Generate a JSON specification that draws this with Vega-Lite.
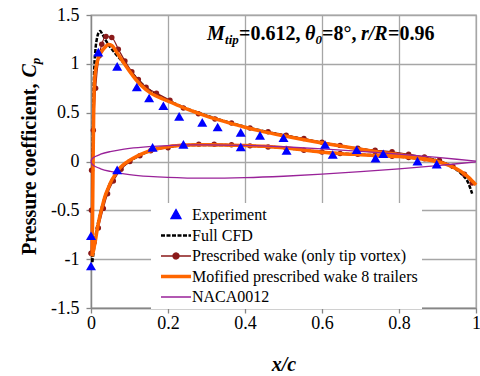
{
  "$schema": "https://vega.github.io/schema/vega-lite/v6.json",
  "width": 385,
  "height": 293,
  "autosize": "none",
  "padding": {"left": 91, "top": 15, "right": 4, "bottom": 68},
  "background": "white",
  "config": {
    "view": {"stroke": "#a6a6a6", "strokeWidth": 1.3},
    "font": "Liberation Serif"
  },
  "datasets": {
    "lines": [
      {"s":"Full CFD","side":"u","x":0.003,"y":-1.03},{"s":"Full CFD","side":"u","x":0.0035,"y":-0.7},{"s":"Full CFD","side":"u","x":0.004,"y":-0.3},{"s":"Full CFD","side":"u","x":0.005,"y":0.2},{"s":"Full CFD","side":"u","x":0.006,"y":0.55},{"s":"Full CFD","side":"u","x":0.008,"y":0.9},{"s":"Full CFD","side":"u","x":0.011,"y":1.12},{"s":"Full CFD","side":"u","x":0.015,"y":1.25},{"s":"Full CFD","side":"u","x":0.02,"y":1.32},{"s":"Full CFD","side":"u","x":0.024,"y":1.335},{"s":"Full CFD","side":"u","x":0.03,"y":1.3},{"s":"Full CFD","side":"u","x":0.04,"y":1.23},{"s":"Full CFD","side":"u","x":0.05,"y":1.17},{"s":"Full CFD","side":"u","x":0.06,"y":1.12},{"s":"Full CFD","side":"u","x":0.08,"y":1.03},{"s":"Full CFD","side":"u","x":0.1,"y":0.935},{"s":"Full CFD","side":"u","x":0.12,"y":0.845},{"s":"Full CFD","side":"u","x":0.15,"y":0.735},{"s":"Full CFD","side":"u","x":0.2,"y":0.625},{"s":"Full CFD","side":"u","x":0.25,"y":0.54},{"s":"Full CFD","side":"u","x":0.3,"y":0.47},{"s":"Full CFD","side":"u","x":0.35,"y":0.41},{"s":"Full CFD","side":"u","x":0.4,"y":0.355},{"s":"Full CFD","side":"u","x":0.45,"y":0.31},{"s":"Full CFD","side":"u","x":0.5,"y":0.27},{"s":"Full CFD","side":"u","x":0.55,"y":0.23},{"s":"Full CFD","side":"u","x":0.6,"y":0.193},{"s":"Full CFD","side":"u","x":0.65,"y":0.158},{"s":"Full CFD","side":"u","x":0.7,"y":0.128},{"s":"Full CFD","side":"u","x":0.75,"y":0.098},{"s":"Full CFD","side":"u","x":0.8,"y":0.072},{"s":"Full CFD","side":"u","x":0.85,"y":0.045},{"s":"Full CFD","side":"u","x":0.9,"y":0.01},{"s":"Full CFD","side":"u","x":0.93,"y":-0.04},{"s":"Full CFD","side":"u","x":0.96,"y":-0.12},{"s":"Full CFD","side":"u","x":0.98,"y":-0.22},{"s":"Full CFD","side":"u","x":0.99,"y":-0.33},
      {"s":"Full CFD","side":"l","x":0.003,"y":-1.03},{"s":"Full CFD","side":"l","x":0.006,"y":-0.95},{"s":"Full CFD","side":"l","x":0.01,"y":-0.82},{"s":"Full CFD","side":"l","x":0.015,"y":-0.69},{"s":"Full CFD","side":"l","x":0.02,"y":-0.6},{"s":"Full CFD","side":"l","x":0.03,"y":-0.44},{"s":"Full CFD","side":"l","x":0.04,"y":-0.32},{"s":"Full CFD","side":"l","x":0.05,"y":-0.22},{"s":"Full CFD","side":"l","x":0.06,"y":-0.16},{"s":"Full CFD","side":"l","x":0.07,"y":-0.1},{"s":"Full CFD","side":"l","x":0.085,"y":-0.04},{"s":"Full CFD","side":"l","x":0.1,"y":0.005},{"s":"Full CFD","side":"l","x":0.12,"y":0.05},{"s":"Full CFD","side":"l","x":0.15,"y":0.105},{"s":"Full CFD","side":"l","x":0.2,"y":0.15},{"s":"Full CFD","side":"l","x":0.25,"y":0.167},{"s":"Full CFD","side":"l","x":0.3,"y":0.17},{"s":"Full CFD","side":"l","x":0.35,"y":0.168},{"s":"Full CFD","side":"l","x":0.4,"y":0.162},{"s":"Full CFD","side":"l","x":0.45,"y":0.154},{"s":"Full CFD","side":"l","x":0.5,"y":0.14},{"s":"Full CFD","side":"l","x":0.55,"y":0.12},{"s":"Full CFD","side":"l","x":0.6,"y":0.097},{"s":"Full CFD","side":"l","x":0.65,"y":0.082},{"s":"Full CFD","side":"l","x":0.7,"y":0.071},{"s":"Full CFD","side":"l","x":0.75,"y":0.061},{"s":"Full CFD","side":"l","x":0.8,"y":0.05},{"s":"Full CFD","side":"l","x":0.85,"y":0.03},{"s":"Full CFD","side":"l","x":0.9,"y":0.005},{"s":"Full CFD","side":"l","x":0.93,"y":-0.04},
      {"s":"Prescribed wake (only tip vortex)","side":"u","x":0.0005,"y":-0.94},{"s":"Prescribed wake (only tip vortex)","side":"u","x":0.001,"y":-0.5},{"s":"Prescribed wake (only tip vortex)","side":"u","x":0.0015,"y":-0.09},{"s":"Prescribed wake (only tip vortex)","side":"u","x":0.006,"y":0.32},{"s":"Prescribed wake (only tip vortex)","side":"u","x":0.012,"y":0.75},{"s":"Prescribed wake (only tip vortex)","side":"u","x":0.021,"y":1.08},{"s":"Prescribed wake (only tip vortex)","side":"u","x":0.028,"y":1.2},{"s":"Prescribed wake (only tip vortex)","side":"u","x":0.039,"y":1.28},{"s":"Prescribed wake (only tip vortex)","side":"u","x":0.054,"y":1.27},{"s":"Prescribed wake (only tip vortex)","side":"u","x":0.071,"y":1.15},{"s":"Prescribed wake (only tip vortex)","side":"u","x":0.088,"y":1.03},{"s":"Prescribed wake (only tip vortex)","side":"u","x":0.106,"y":0.92},{"s":"Prescribed wake (only tip vortex)","side":"u","x":0.123,"y":0.84},{"s":"Prescribed wake (only tip vortex)","side":"u","x":0.143,"y":0.76},{"s":"Prescribed wake (only tip vortex)","side":"u","x":0.17,"y":0.7},{"s":"Prescribed wake (only tip vortex)","side":"u","x":0.205,"y":0.626},{"s":"Prescribed wake (only tip vortex)","side":"u","x":0.24,"y":0.547},{"s":"Prescribed wake (only tip vortex)","side":"u","x":0.279,"y":0.489},{"s":"Prescribed wake (only tip vortex)","side":"u","x":0.322,"y":0.435},{"s":"Prescribed wake (only tip vortex)","side":"u","x":0.365,"y":0.394},{"s":"Prescribed wake (only tip vortex)","side":"u","x":0.413,"y":0.342},{"s":"Prescribed wake (only tip vortex)","side":"u","x":0.46,"y":0.305},{"s":"Prescribed wake (only tip vortex)","side":"u","x":0.507,"y":0.27},{"s":"Prescribed wake (only tip vortex)","side":"u","x":0.553,"y":0.235},{"s":"Prescribed wake (only tip vortex)","side":"u","x":0.6,"y":0.198},{"s":"Prescribed wake (only tip vortex)","side":"u","x":0.647,"y":0.165},{"s":"Prescribed wake (only tip vortex)","side":"u","x":0.693,"y":0.137},{"s":"Prescribed wake (only tip vortex)","side":"u","x":0.738,"y":0.115},{"s":"Prescribed wake (only tip vortex)","side":"u","x":0.782,"y":0.1},{"s":"Prescribed wake (only tip vortex)","side":"u","x":0.825,"y":0.075},{"s":"Prescribed wake (only tip vortex)","side":"u","x":0.866,"y":0.045},{"s":"Prescribed wake (only tip vortex)","side":"u","x":0.905,"y":0.01},{"s":"Prescribed wake (only tip vortex)","side":"u","x":0.94,"y":-0.05},{"s":"Prescribed wake (only tip vortex)","side":"u","x":0.97,"y":-0.13},{"s":"Prescribed wake (only tip vortex)","side":"u","x":0.99,"y":-0.22},
      {"s":"Prescribed wake (only tip vortex)","side":"l","x":0.0005,"y":-0.94},{"s":"Prescribed wake (only tip vortex)","side":"l","x":0.008,"y":-0.83},{"s":"Prescribed wake (only tip vortex)","side":"l","x":0.019,"y":-0.68},{"s":"Prescribed wake (only tip vortex)","side":"l","x":0.032,"y":-0.48},{"s":"Prescribed wake (only tip vortex)","side":"l","x":0.043,"y":-0.33},{"s":"Prescribed wake (only tip vortex)","side":"l","x":0.058,"y":-0.2},{"s":"Prescribed wake (only tip vortex)","side":"l","x":0.078,"y":-0.08},{"s":"Prescribed wake (only tip vortex)","side":"l","x":0.101,"y":0.0},{"s":"Prescribed wake (only tip vortex)","side":"l","x":0.127,"y":0.06},{"s":"Prescribed wake (only tip vortex)","side":"l","x":0.155,"y":0.11},{"s":"Prescribed wake (only tip vortex)","side":"l","x":0.2,"y":0.14},{"s":"Prescribed wake (only tip vortex)","side":"l","x":0.24,"y":0.165},{"s":"Prescribed wake (only tip vortex)","side":"l","x":0.28,"y":0.178},{"s":"Prescribed wake (only tip vortex)","side":"l","x":0.32,"y":0.177},{"s":"Prescribed wake (only tip vortex)","side":"l","x":0.365,"y":0.172},{"s":"Prescribed wake (only tip vortex)","side":"l","x":0.413,"y":0.16},{"s":"Prescribed wake (only tip vortex)","side":"l","x":0.46,"y":0.148},{"s":"Prescribed wake (only tip vortex)","side":"l","x":0.507,"y":0.133},{"s":"Prescribed wake (only tip vortex)","side":"l","x":0.553,"y":0.115},{"s":"Prescribed wake (only tip vortex)","side":"l","x":0.6,"y":0.097},{"s":"Prescribed wake (only tip vortex)","side":"l","x":0.647,"y":0.083},{"s":"Prescribed wake (only tip vortex)","side":"l","x":0.693,"y":0.073},{"s":"Prescribed wake (only tip vortex)","side":"l","x":0.738,"y":0.063},{"s":"Prescribed wake (only tip vortex)","side":"l","x":0.782,"y":0.053},{"s":"Prescribed wake (only tip vortex)","side":"l","x":0.825,"y":0.04},{"s":"Prescribed wake (only tip vortex)","side":"l","x":0.866,"y":0.027},{"s":"Prescribed wake (only tip vortex)","side":"l","x":0.905,"y":0.01},
      {"s":"Mofified prescribed wake 8 trailers","side":"u","x":0.003,"y":-0.97},{"s":"Mofified prescribed wake 8 trailers","side":"u","x":0.004,"y":-0.6},{"s":"Mofified prescribed wake 8 trailers","side":"u","x":0.005,"y":-0.2},{"s":"Mofified prescribed wake 8 trailers","side":"u","x":0.006,"y":0.2},{"s":"Mofified prescribed wake 8 trailers","side":"u","x":0.007,"y":0.5},{"s":"Mofified prescribed wake 8 trailers","side":"u","x":0.008,"y":0.72},{"s":"Mofified prescribed wake 8 trailers","side":"u","x":0.0105,"y":0.89},{"s":"Mofified prescribed wake 8 trailers","side":"u","x":0.015,"y":1.0},{"s":"Mofified prescribed wake 8 trailers","side":"u","x":0.019,"y":1.06},{"s":"Mofified prescribed wake 8 trailers","side":"u","x":0.025,"y":1.11},{"s":"Mofified prescribed wake 8 trailers","side":"u","x":0.032,"y":1.15},{"s":"Mofified prescribed wake 8 trailers","side":"u","x":0.04,"y":1.185},{"s":"Mofified prescribed wake 8 trailers","side":"u","x":0.045,"y":1.197},{"s":"Mofified prescribed wake 8 trailers","side":"u","x":0.055,"y":1.185},{"s":"Mofified prescribed wake 8 trailers","side":"u","x":0.065,"y":1.13},{"s":"Mofified prescribed wake 8 trailers","side":"u","x":0.075,"y":1.07},{"s":"Mofified prescribed wake 8 trailers","side":"u","x":0.085,"y":1.01},{"s":"Mofified prescribed wake 8 trailers","side":"u","x":0.1,"y":0.925},{"s":"Mofified prescribed wake 8 trailers","side":"u","x":0.115,"y":0.845},{"s":"Mofified prescribed wake 8 trailers","side":"u","x":0.13,"y":0.78},{"s":"Mofified prescribed wake 8 trailers","side":"u","x":0.155,"y":0.7},{"s":"Mofified prescribed wake 8 trailers","side":"u","x":0.19,"y":0.635},{"s":"Mofified prescribed wake 8 trailers","side":"u","x":0.22,"y":0.585},{"s":"Mofified prescribed wake 8 trailers","side":"u","x":0.25,"y":0.535},{"s":"Mofified prescribed wake 8 trailers","side":"u","x":0.3,"y":0.465},{"s":"Mofified prescribed wake 8 trailers","side":"u","x":0.35,"y":0.405},{"s":"Mofified prescribed wake 8 trailers","side":"u","x":0.4,"y":0.35},{"s":"Mofified prescribed wake 8 trailers","side":"u","x":0.45,"y":0.303},{"s":"Mofified prescribed wake 8 trailers","side":"u","x":0.5,"y":0.263},{"s":"Mofified prescribed wake 8 trailers","side":"u","x":0.55,"y":0.225},{"s":"Mofified prescribed wake 8 trailers","side":"u","x":0.6,"y":0.19},{"s":"Mofified prescribed wake 8 trailers","side":"u","x":0.65,"y":0.157},{"s":"Mofified prescribed wake 8 trailers","side":"u","x":0.7,"y":0.125},{"s":"Mofified prescribed wake 8 trailers","side":"u","x":0.75,"y":0.096},{"s":"Mofified prescribed wake 8 trailers","side":"u","x":0.8,"y":0.07},{"s":"Mofified prescribed wake 8 trailers","side":"u","x":0.85,"y":0.04},{"s":"Mofified prescribed wake 8 trailers","side":"u","x":0.9,"y":0.0},{"s":"Mofified prescribed wake 8 trailers","side":"u","x":0.93,"y":-0.04},{"s":"Mofified prescribed wake 8 trailers","side":"u","x":0.96,"y":-0.1},{"s":"Mofified prescribed wake 8 trailers","side":"u","x":0.98,"y":-0.16},{"s":"Mofified prescribed wake 8 trailers","side":"u","x":1.0,"y":-0.24},
      {"s":"Mofified prescribed wake 8 trailers","side":"l","x":0.003,"y":-0.97},{"s":"Mofified prescribed wake 8 trailers","side":"l","x":0.006,"y":-0.92},{"s":"Mofified prescribed wake 8 trailers","side":"l","x":0.01,"y":-0.84},{"s":"Mofified prescribed wake 8 trailers","side":"l","x":0.016,"y":-0.7},{"s":"Mofified prescribed wake 8 trailers","side":"l","x":0.023,"y":-0.56},{"s":"Mofified prescribed wake 8 trailers","side":"l","x":0.03,"y":-0.45},{"s":"Mofified prescribed wake 8 trailers","side":"l","x":0.036,"y":-0.36},{"s":"Mofified prescribed wake 8 trailers","side":"l","x":0.045,"y":-0.27},{"s":"Mofified prescribed wake 8 trailers","side":"l","x":0.054,"y":-0.19},{"s":"Mofified prescribed wake 8 trailers","side":"l","x":0.062,"y":-0.14},{"s":"Mofified prescribed wake 8 trailers","side":"l","x":0.071,"y":-0.085},{"s":"Mofified prescribed wake 8 trailers","side":"l","x":0.085,"y":-0.03},{"s":"Mofified prescribed wake 8 trailers","side":"l","x":0.1,"y":0.01},{"s":"Mofified prescribed wake 8 trailers","side":"l","x":0.12,"y":0.055},{"s":"Mofified prescribed wake 8 trailers","side":"l","x":0.14,"y":0.09},{"s":"Mofified prescribed wake 8 trailers","side":"l","x":0.16,"y":0.118},{"s":"Mofified prescribed wake 8 trailers","side":"l","x":0.18,"y":0.138},{"s":"Mofified prescribed wake 8 trailers","side":"l","x":0.2,"y":0.152},{"s":"Mofified prescribed wake 8 trailers","side":"l","x":0.25,"y":0.168},{"s":"Mofified prescribed wake 8 trailers","side":"l","x":0.3,"y":0.172},{"s":"Mofified prescribed wake 8 trailers","side":"l","x":0.35,"y":0.17},{"s":"Mofified prescribed wake 8 trailers","side":"l","x":0.4,"y":0.163},{"s":"Mofified prescribed wake 8 trailers","side":"l","x":0.45,"y":0.155},{"s":"Mofified prescribed wake 8 trailers","side":"l","x":0.5,"y":0.14},{"s":"Mofified prescribed wake 8 trailers","side":"l","x":0.55,"y":0.118},{"s":"Mofified prescribed wake 8 trailers","side":"l","x":0.6,"y":0.095},{"s":"Mofified prescribed wake 8 trailers","side":"l","x":0.65,"y":0.08},{"s":"Mofified prescribed wake 8 trailers","side":"l","x":0.7,"y":0.07},{"s":"Mofified prescribed wake 8 trailers","side":"l","x":0.75,"y":0.06},{"s":"Mofified prescribed wake 8 trailers","side":"l","x":0.8,"y":0.05},{"s":"Mofified prescribed wake 8 trailers","side":"l","x":0.85,"y":0.03},{"s":"Mofified prescribed wake 8 trailers","side":"l","x":0.9,"y":0.0},
      {"s":"NACA0012","side":"u","x":0,"y":0},{"s":"NACA0012","side":"u","x":0.001,"y":0.0158},{"s":"NACA0012","side":"u","x":0.0025,"y":0.0248},{"s":"NACA0012","side":"u","x":0.005,"y":0.0348},{"s":"NACA0012","side":"u","x":0.0125,"y":0.054},{"s":"NACA0012","side":"u","x":0.025,"y":0.0745},{"s":"NACA0012","side":"u","x":0.05,"y":0.1013},{"s":"NACA0012","side":"u","x":0.075,"y":0.1197},{"s":"NACA0012","side":"u","x":0.1,"y":0.1335},{"s":"NACA0012","side":"u","x":0.15,"y":0.1523},{"s":"NACA0012","side":"u","x":0.2,"y":0.1635},{"s":"NACA0012","side":"u","x":0.25,"y":0.1693},{"s":"NACA0012","side":"u","x":0.3,"y":0.1711},{"s":"NACA0012","side":"u","x":0.4,"y":0.1654},{"s":"NACA0012","side":"u","x":0.5,"y":0.1509},{"s":"NACA0012","side":"u","x":0.6,"y":0.1301},{"s":"NACA0012","side":"u","x":0.7,"y":0.1044},{"s":"NACA0012","side":"u","x":0.8,"y":0.0748},{"s":"NACA0012","side":"u","x":0.9,"y":0.0413},{"s":"NACA0012","side":"u","x":0.95,"y":0.023},{"s":"NACA0012","side":"u","x":1.0,"y":0.0036},
      {"s":"NACA0012","side":"l","x":0,"y":0},{"s":"NACA0012","side":"l","x":0.001,"y":-0.0158},{"s":"NACA0012","side":"l","x":0.0025,"y":-0.0248},{"s":"NACA0012","side":"l","x":0.005,"y":-0.0348},{"s":"NACA0012","side":"l","x":0.0125,"y":-0.054},{"s":"NACA0012","side":"l","x":0.025,"y":-0.0745},{"s":"NACA0012","side":"l","x":0.05,"y":-0.1013},{"s":"NACA0012","side":"l","x":0.075,"y":-0.1197},{"s":"NACA0012","side":"l","x":0.1,"y":-0.1335},{"s":"NACA0012","side":"l","x":0.15,"y":-0.1523},{"s":"NACA0012","side":"l","x":0.2,"y":-0.1635},{"s":"NACA0012","side":"l","x":0.25,"y":-0.1693},{"s":"NACA0012","side":"l","x":0.3,"y":-0.1711},{"s":"NACA0012","side":"l","x":0.4,"y":-0.1654},{"s":"NACA0012","side":"l","x":0.5,"y":-0.1509},{"s":"NACA0012","side":"l","x":0.6,"y":-0.1301},{"s":"NACA0012","side":"l","x":0.7,"y":-0.1044},{"s":"NACA0012","side":"l","x":0.8,"y":-0.0748},{"s":"NACA0012","side":"l","x":0.9,"y":-0.0413},{"s":"NACA0012","side":"l","x":0.95,"y":-0.023},{"s":"NACA0012","side":"l","x":1.0,"y":-0.0036}
    ],
    "exp": [
      {"s":"Experiment","x":0,"y":-0.76},{"s":"Experiment","x":0,"y":-1.07},{"s":"Experiment","x":0.019,"y":1.12},{"s":"Experiment","x":0.068,"y":0.974},{"s":"Experiment","x":0.119,"y":0.763},{"s":"Experiment","x":0.151,"y":0.65},{"s":"Experiment","x":0.068,"y":-0.085},{"s":"Experiment","x":0.16,"y":0.144},{"s":"Experiment","x":0.188,"y":0.571},{"s":"Experiment","x":0.229,"y":0.462},{"s":"Experiment","x":0.289,"y":0.4},{"s":"Experiment","x":0.329,"y":0.353},{"s":"Experiment","x":0.389,"y":0.298},{"s":"Experiment","x":0.439,"y":0.268},{"s":"Experiment","x":0.5,"y":0.243},{"s":"Experiment","x":0.24,"y":0.175},{"s":"Experiment","x":0.389,"y":0.15},{"s":"Experiment","x":0.508,"y":0.113},{"s":"Experiment","x":0.608,"y":0.174},{"s":"Experiment","x":0.628,"y":0.072},{"s":"Experiment","x":0.69,"y":0.12},{"s":"Experiment","x":0.739,"y":0.035},{"s":"Experiment","x":0.759,"y":0.079},{"s":"Experiment","x":0.848,"y":0.004},{"s":"Experiment","x":0.898,"y":-0.027}
    ],
    "one": [{"k": 1}]
  },
  "layer": [
    {
      "data": {"name": "lines"},
      "transform": [{"filter": "datum.s == 'Full CFD'"}],
      "mark": {"type": "line", "strokeWidth": 2.5, "strokeDash": [4, 1.5], "interpolate": "monotone"},
      "encoding": {
        "x": {"field": "x", "type": "quantitative", "scale": {"domain": [0, 1], "nice": false, "zero": false},
          "axis": {"values": [0, 0.2, 0.4, 0.6, 0.8, 1], "labelExpr": "'' + datum.value",
            "grid": true, "gridColor": "#a6a6a6", "gridWidth": 1.3, "domainColor": "#868686", "domainWidth": 1.3,
            "tickColor": "#868686", "tickSize": 5, "tickWidth": 1.3,
            "labelFont": "Liberation Serif", "labelFontSize": 18, "labelColor": "black", "labelPadding": 1,
            "labelOverlap": false, "labelFlush": false,
            "title": "x/c", "titleFont": "Liberation Serif", "titleColor": "black", "titleFontSize": 20,
            "titleFontWeight": "bold", "titleFontStyle": "italic", "titlePadding": 22}},
        "y": {"field": "y", "type": "quantitative", "scale": {"domain": [-1.5, 1.5], "nice": false, "zero": false},
          "axis": {"values": [-1.5, -1, -0.5, 0, 0.5, 1, 1.5], "labelExpr": "'' + datum.value",
            "grid": true, "gridColor": "#a6a6a6", "gridWidth": 1.3, "domainColor": "#868686", "domainWidth": 1.3,
            "tickColor": "#868686", "tickSize": 5, "tickWidth": 1.3,
            "labelFont": "Liberation Serif", "labelFontSize": 18, "labelColor": "black", "labelPadding": 7,
            "labelOverlap": false, "labelFlush": false, "title": null}},
        "detail": {"field": "side"},
        "color": {"field": "s", "type": "nominal",
          "scale": {"domain": ["Experiment", "Full CFD", "Prescribed wake (only tip vortex)", "Mofified prescribed wake 8 trailers", "NACA0012"],
                    "range": ["#0000ff", "#000000", "#8b1a1a", "#ff6600", "#992299"]},
          "legend": {
            "title": null, "orient": "none", "legendX": 60, "legendY": 188, "direction": "vertical",
            "fillColor": "white", "padding": 4, "rowPadding": 4.5,
            "labelFont": "Liberation Serif", "labelFontSize": 16, "labelColor": "black", "labelLimit": 400,
            "symbolSize": 100, "symbolOffset": 13, "labelOffset": 8,
            "encode": {"symbols": {"update": {
              "shape": {"signal": "datum.value === 'Experiment' ? 'M0,-1.1L1,0.7L-1,0.7Z' : (datum.value === 'Prescribed wake (only tip vortex)' ? 'M-3,0H3M0.6,0A0.6,0.6,0,1,1,-0.6,0A0.6,0.6,0,1,1,0.6,0Z' : 'M-3,0H3')"},
              "fill": {"signal": "datum.value === 'Experiment' ? '#0000ff' : (datum.value === 'Prescribed wake (only tip vortex)' ? '#8b1a1a' : 'transparent')"},
              "stroke": {"signal": "datum.value === 'Experiment' ? 'transparent' : (datum.value === 'Full CFD' ? '#000000' : (datum.value === 'Prescribed wake (only tip vortex)' ? '#8b1a1a' : (datum.value === 'NACA0012' ? '#992299' : '#ff6600')))"},
              "strokeWidth": {"signal": "datum.value === 'Mofified prescribed wake 8 trailers' ? 3.5 : (datum.value === 'Full CFD' ? 2.5 : 1.3)"},
              "strokeDash": {"signal": "datum.value === 'Full CFD' ? [4, 1.5] : [1, 0]"},
              "opacity": {"value": 1}, "fillOpacity": {"value": 1}, "strokeOpacity": {"value": 1}
            }}}
          }}
      }
    },
    {
      "data": {"name": "lines"},
      "transform": [{"filter": "datum.s == 'Prescribed wake (only tip vortex)'"}],
      "mark": {"type": "line", "strokeWidth": 1.2, "interpolate": "monotone", "point": {"filled": true, "size": 30, "opacity": 1}},
      "encoding": {"x": {"field": "x", "type": "quantitative"}, "y": {"field": "y", "type": "quantitative"}, "detail": {"field": "side"}, "color": {"field": "s", "type": "nominal"}}
    },
    {
      "data": {"name": "lines"},
      "transform": [{"filter": "datum.s == 'Mofified prescribed wake 8 trailers'"}],
      "mark": {"type": "line", "strokeWidth": 3.5, "interpolate": "monotone"},
      "encoding": {"x": {"field": "x", "type": "quantitative"}, "y": {"field": "y", "type": "quantitative"}, "detail": {"field": "side"}, "color": {"field": "s", "type": "nominal"}}
    },
    {
      "data": {"name": "lines"},
      "transform": [{"filter": "datum.s == 'NACA0012'"}],
      "mark": {"type": "line", "strokeWidth": 1.3, "interpolate": "monotone"},
      "encoding": {"x": {"field": "x", "type": "quantitative"}, "y": {"field": "y", "type": "quantitative"}, "detail": {"field": "side"}, "color": {"field": "s", "type": "nominal"}}
    },
    {
      "data": {"name": "exp"},
      "mark": {"type": "point", "shape": "triangle-up", "filled": true, "size": 100, "opacity": 1},
      "encoding": {"x": {"field": "x", "type": "quantitative"}, "y": {"field": "y", "type": "quantitative"}, "color": {"field": "s", "type": "nominal"}}
    },
    {"data": {"name": "one"}, "mark": {"type": "text", "align": "left", "baseline": "alphabetic", "font": "Liberation Serif", "fontSize": 20, "fontWeight": "bold", "fontStyle": "italic", "fill": "black"},
     "encoding": {"text": {"value": "M"}, "x": {"datum": 0.3013, "type": "quantitative"}, "y": {"datum": 1.248, "type": "quantitative"}}},
    {"data": {"name": "one"}, "mark": {"type": "text", "align": "left", "baseline": "alphabetic", "font": "Liberation Serif", "fontSize": 13, "fontWeight": "bold", "fontStyle": "italic", "fill": "black"},
     "encoding": {"text": {"value": "tip"}, "x": {"datum": 0.3481, "type": "quantitative"}, "y": {"datum": 1.2, "type": "quantitative"}}},
    {"data": {"name": "one"}, "mark": {"type": "text", "align": "left", "baseline": "alphabetic", "font": "Liberation Serif", "fontSize": 20, "fontWeight": "bold", "fill": "black"},
     "encoding": {"text": {"value": "=0.612,"}, "x": {"datum": 0.3844, "type": "quantitative"}, "y": {"datum": 1.248, "type": "quantitative"}}},
    {"data": {"name": "one"}, "mark": {"type": "text", "align": "left", "baseline": "alphabetic", "font": "Liberation Serif", "fontSize": 20, "fontWeight": "bold", "fontStyle": "italic", "fill": "black"},
     "encoding": {"text": {"value": "θ"}, "x": {"datum": 0.5558, "type": "quantitative"}, "y": {"datum": 1.248, "type": "quantitative"}}},
    {"data": {"name": "one"}, "mark": {"type": "text", "align": "left", "baseline": "alphabetic", "font": "Liberation Serif", "fontSize": 13, "fontWeight": "bold", "fontStyle": "italic", "fill": "black"},
     "encoding": {"text": {"value": "0"}, "x": {"datum": 0.5831, "type": "quantitative"}, "y": {"datum": 1.2, "type": "quantitative"}}},
    {"data": {"name": "one"}, "mark": {"type": "text", "align": "left", "baseline": "alphabetic", "font": "Liberation Serif", "fontSize": 20, "fontWeight": "bold", "fill": "black"},
     "encoding": {"text": {"value": "=8°,"}, "x": {"datum": 0.6, "type": "quantitative"}, "y": {"datum": 1.248, "type": "quantitative"}}},
    {"data": {"name": "one"}, "mark": {"type": "text", "align": "left", "baseline": "alphabetic", "font": "Liberation Serif", "fontSize": 20, "fontWeight": "bold", "fontStyle": "italic", "fill": "black"},
     "encoding": {"text": {"value": "r/R"}, "x": {"datum": 0.7013, "type": "quantitative"}, "y": {"datum": 1.248, "type": "quantitative"}}},
    {"data": {"name": "one"}, "mark": {"type": "text", "align": "left", "baseline": "alphabetic", "font": "Liberation Serif", "fontSize": 20, "fontWeight": "bold", "fill": "black"},
     "encoding": {"text": {"value": "=0.96"}, "x": {"datum": 0.7714, "type": "quantitative"}, "y": {"datum": 1.248, "type": "quantitative"}}},
    {"data": {"name": "one"}, "mark": {"type": "text", "angle": 270, "align": "left", "baseline": "alphabetic", "font": "Liberation Serif", "fontSize": 20, "fontWeight": "bold", "fill": "black"},
     "encoding": {"text": {"value": "Pressure coefficient,"}, "x": {"datum": -0.1429, "type": "quantitative"}, "y": {"datum": -0.957, "type": "quantitative"}}},
    {"data": {"name": "one"}, "mark": {"type": "text", "angle": 270, "align": "left", "baseline": "alphabetic", "font": "Liberation Serif", "fontSize": 20, "fontWeight": "bold", "fontStyle": "italic", "fill": "black"},
     "encoding": {"text": {"value": "C"}, "x": {"datum": -0.1429, "type": "quantitative"}, "y": {"datum": 0.8605, "type": "quantitative"}}},
    {"data": {"name": "one"}, "mark": {"type": "text", "angle": 270, "align": "left", "baseline": "alphabetic", "font": "Liberation Serif", "fontSize": 13, "fontWeight": "bold", "fontStyle": "italic", "fill": "black"},
     "encoding": {"text": {"value": "p"}, "x": {"datum": -0.1325, "type": "quantitative"}, "y": {"datum": 0.997, "type": "quantitative"}}}
  ]
}
